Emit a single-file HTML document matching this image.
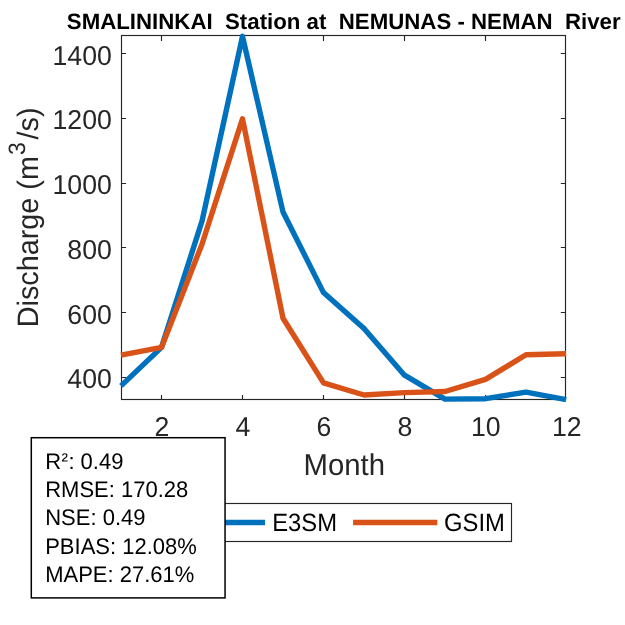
<!DOCTYPE html>
<html lang="en">
<head>
<meta charset="utf-8">
<title>SMALININKAI Station at NEMUNAS - NEMAN River</title>
<style>
html,body{margin:0;padding:0;background:#fff;}
svg{display:block;}
</style>
</head>
<body>
<svg width="625" height="625" viewBox="0 0 625 625" text-rendering="geometricPrecision">
<rect x="0" y="0" width="625" height="625" fill="#fff"/>
<rect x="121.5" y="35.5" width="444.0" height="364.0" fill="none" stroke="#262626" stroke-width="1.15"/>
<path d="M161.5 399.5v-4.6M161.5 35.5v5.4M242.5 399.5v-4.6M242.5 35.5v5.4M323.5 399.5v-4.6M323.5 35.5v5.4M404.5 399.5v-4.6M404.5 35.5v5.4M485.5 399.5v-4.6M485.5 35.5v5.4M121.5 377.5h4.6M565.5 377.5h-4.7M121.5 312.5h4.6M565.5 312.5h-4.7M121.5 247.5h4.6M565.5 247.5h-4.7M121.5 183.5h4.6M565.5 183.5h-4.7M121.5 118.5h4.6M565.5 118.5h-4.7M121.5 53.5h4.6M565.5 53.5h-4.7" stroke="#262626" stroke-width="1.15" fill="none"/>
<g font-family="'Liberation Sans', Arial, sans-serif" font-size="26.67" fill="#262626">
<text transform="translate(111.8 388.0) scale(1 1.025)" text-anchor="end">400</text>
<text transform="translate(111.8 324.0) scale(1 1.025)" text-anchor="end">600</text>
<text transform="translate(111.8 259.0) scale(1 1.025)" text-anchor="end">800</text>
<text transform="translate(111.8 194.0) scale(1 1.025)" text-anchor="end">1000</text>
<text transform="translate(111.8 129.0) scale(1 1.025)" text-anchor="end">1200</text>
<text transform="translate(111.8 65.0) scale(1 1.025)" text-anchor="end">1400</text>
<text transform="translate(161.8 436.2) scale(1 1.025)" text-anchor="middle">2</text>
<text transform="translate(242.8 436.2) scale(1 1.025)" text-anchor="middle">4</text>
<text transform="translate(323.8 436.2) scale(1 1.025)" text-anchor="middle">6</text>
<text transform="translate(404.8 436.2) scale(1 1.025)" text-anchor="middle">8</text>
<text transform="translate(485.8 436.2) scale(1 1.025)" text-anchor="middle">10</text>
<text transform="translate(566.8 436.2) scale(1 1.025)" text-anchor="middle">12</text>
</g>
<g font-family="'Liberation Sans', Arial, sans-serif" font-size="29.33" fill="#262626">
<text transform="translate(344.3 475.1) scale(1 1.025)" text-anchor="middle">Month</text>
<text transform="translate(38.4 217.4) rotate(-90) scale(1 1.025)" text-anchor="middle" font-size="28.8">Discharge (m<tspan font-size="23" dx="1" dy="-12.9">3</tspan><tspan dx="2.8" dy="12.9">/s)</tspan></text>
</g>
<g font-family="'Liberation Sans', Arial, sans-serif" font-weight="bold" font-size="22.25" fill="#000">
<text transform="translate(343.7 28.6) scale(1 1.0)" text-anchor="middle" xml:space="preserve">SMALININKAI  Station at  NEMUNAS - NEMAN  River</text>
</g>
<polyline points="121.0,385.9 161.5,347.4 202.0,221.2 242.5,36.3 283.0,212.0 323.5,292.6 364.0,328.6 404.5,375.2 445.0,399.1 485.5,398.7 526.0,392.2 566.1,399.7" fill="none" stroke="#0072BD" stroke-width="5.4" stroke-linejoin="round"/>
<polyline points="121.0,355.1 161.5,347.4 202.0,244.2 242.5,118.8 283.0,318.2 323.5,382.9 364.0,395.0 404.5,392.6 445.0,391.5 485.5,379.4 526.0,354.8 566.1,353.8" fill="none" stroke="#D95319" stroke-width="5.4" stroke-linejoin="round"/>
<rect x="174.5" y="503.5" width="337" height="38" fill="#fff" stroke="#262626" stroke-width="1.15"/>
<path d="M180.8 522.5H265" stroke="#0072BD" stroke-width="5.4"/>
<path d="M353.1 522.5H437.3" stroke="#D95319" stroke-width="5.4"/>
<g font-family="'Liberation Sans', Arial, sans-serif" font-size="23.8" fill="#000">
<text transform="translate(272.2 530.6) scale(1 1.05)" text-anchor="start">E3SM</text>
<text transform="translate(444.0 530.6) scale(1 1.05)" text-anchor="start">GSIM</text>
</g>
<rect x="31.3" y="437.7" width="193.75" height="160.2" fill="#fff" stroke="#000" stroke-width="1.5"/>
<g font-family="'Liberation Sans', Arial, sans-serif" font-size="22" fill="#000">
<text transform="translate(45.2 468.9) scale(1 1.025)" text-anchor="start">R<tspan font-size="19.5" dx="0.3" dy="-1.6">²</tspan><tspan dx="0.5" dy="1.6">: 0.49</tspan></text>
<text transform="translate(45.2 497.1) scale(1 1.025)" text-anchor="start">RMSE: 170.28</text>
<text transform="translate(45.2 525.3) scale(1 1.025)" text-anchor="start">NSE: 0.49</text>
<text transform="translate(45.2 553.5) scale(1 1.025)" text-anchor="start">PBIAS: 12.08%</text>
<text transform="translate(45.2 581.7) scale(1 1.025)" text-anchor="start">MAPE: 27.61%</text>
</g>
</svg>
</body>
</html>
